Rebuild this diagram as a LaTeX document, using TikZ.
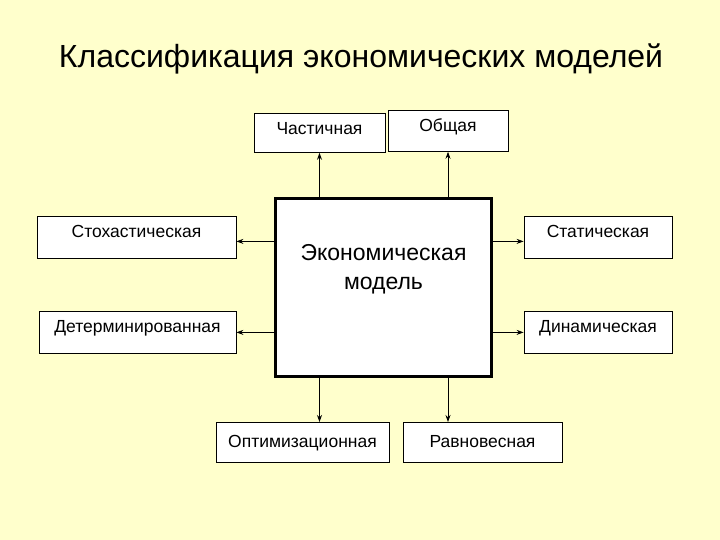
\documentclass[tikz,border=0pt]{standalone}
\usepackage{fontspec}
\setmainfont{Liberation Sans}
\usetikzlibrary{arrows.meta}
\definecolor{bg}{RGB}{255,255,204}
\tikzset{
  kind/.style={draw, fill=white, line width=0.8pt, anchor=north, align=center, font=\fontsize{17.5}{20}\selectfont, inner xsep=0pt, inner ysep=0pt, text height=21pt},
  link/.style={-{Stealth[length=7pt,width=5pt]}, line width=0.8pt}
}
\begin{document}
\begin{tikzpicture}[x=1pt,y=-1pt]
	\fill[bg] (0,0) rectangle (720,540);
	\useasboundingbox (0,0) rectangle (720,540);
	% Title
	\node[font=\fontsize{32}{36}\selectfont] (title) at (361,59) {Классификация экономических моделей};
	% Center
	\node[draw, fill=white, line width=3pt, minimum width=216pt, minimum height=178pt, align=center, font=\fontsize{23}{29}\selectfont, text height=76pt, text depth=72pt] (Model) at (383.5,287.5) {Экономическая\\модель};
	% Kinds
	\node[kind, text width=131pt, text depth=18pt] (Part) at (319.5,113) {Частичная};
	\node[kind, text width=120pt, text depth=20pt] (General) at (448,110) {Общая};
	\node[kind, text width=199pt, text depth=21pt] (Stoch) at (136.5,216) {Стохастическая};
	\node[kind, text width=148pt, text depth=21pt] (Static) at (598,216) {Статическая};
	\node[kind, text width=197pt, text depth=21pt] (Determ) at (137.5,311) {Детерминированная};
	\node[kind, text width=148pt, text depth=21pt] (Dynamic) at (598,311) {Динамическая};
	\node[kind, text width=173pt, text depth=15pt, text height=25pt] (Optim) at (302.5,422) {Оптимизационная};
	\node[kind, text width=159pt, text depth=15pt, text height=25pt] (Equil) at (482.5,422) {Равновесная};
	% Links
	\draw[link] (Model.north -| Part.south) -- (Part.south);
	\draw[link] (Model.north -| General.south) -- (General.south);
	\draw[link] ([yshift=-4pt]Model.west |- Stoch.east) -- ([yshift=-4pt]Stoch.east);
	\draw[link] (Model.west |- Determ.east) -- (Determ.east);
	\draw[link] ([yshift=-4pt]Model.east |- Static.west) -- ([yshift=-4pt]Static.west);
	\draw[link] (Model.east |- Dynamic.west) -- (Dynamic.west);
	\draw[link] (Model.south -| Part.south) -- (Part.south |- Optim.north);
	\draw[link] (Model.south -| General.south) -- (General.south |- Equil.north);
\end{tikzpicture}
\end{document}
